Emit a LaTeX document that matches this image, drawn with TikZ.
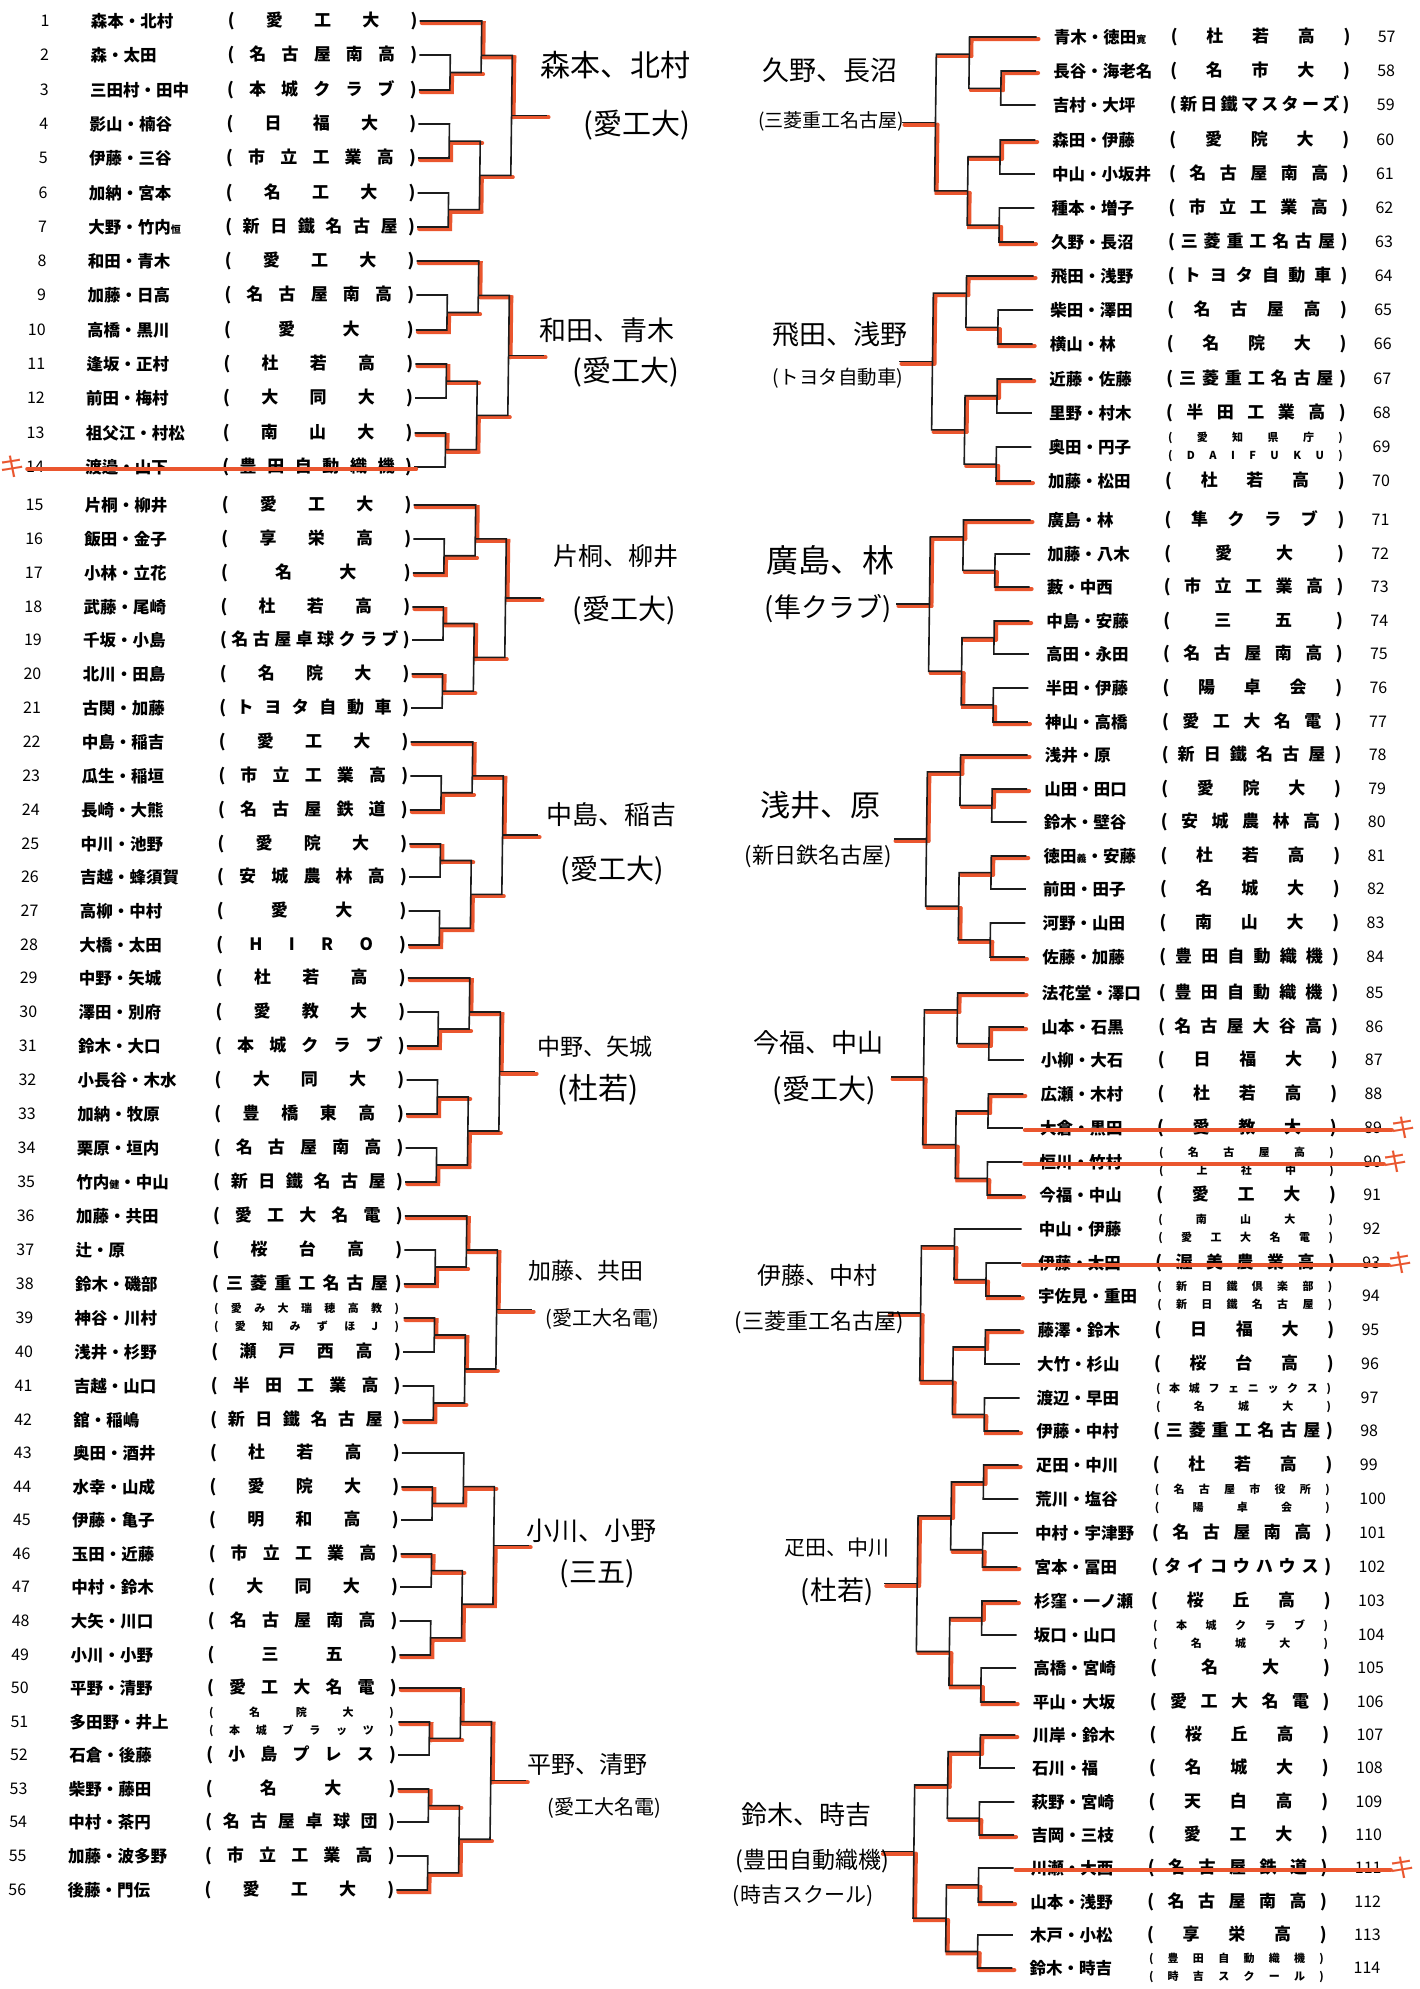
\documentclass[tikz,border=0pt]{standalone}
\usepackage{fontspec}
\setmainfont{Noto Sans CJK JP}
\usetikzlibrary{calc}

\pgfdeclarelayer{paper}
\pgfdeclarelayer{marker}
\pgfsetlayers{paper,marker,main}

\definecolor{ink}{RGB}{28,28,28}
\definecolor{pen}{RGB}{234,86,46}

\newlength{\clubw}
\newcommand{\spreadout}[1]{\makebox[\clubw][s]{\spaceskip=0pt plus 1fil\relax\hskip 0pt plus 1fil\relax #1\hskip 0pt plus 1fil\relax}}
\newcommand{\one}[1]{(\spreadout{#1})}
\newcommand{\two}[2]{{\fontsize{11}{17.5}\selectfont\begin{tabular}{@{}c@{}}(\spreadout{#1})\\(\spreadout{#2})\end{tabular}}}
\newcommand{\sm}[1]{{\fontsize{10}{10}\selectfont #1}}

\tikzset{
  bk/.style={draw=ink,line width=1.6pt},
  hl/.style={draw=pen,line width=4pt,line cap=round,transform canvas={shift={(2pt,-2pt)}}},
  rownum/.style={inner sep=0pt,font=\fontsize{16}{16}\selectfont},
  player/.style={anchor=west,inner sep=0pt,font=\fontsize{16.5}{16.5}\selectfont\bfseries},
  club/.style={inner sep=0pt,font=\fontsize{17}{17}\selectfont\bfseries},
  scrawl/.style={inner sep=0pt,font=\fontsize{#1}{#1}\selectfont},
  kimark/.style={text=pen,inner sep=0pt,font=\fontsize{26}{26}\selectfont},
}

% block of seven: tag, first row, top, pitch, x of rounds 1-3, x of end, 2nd round joint
\newcommand{\bracketseven}[9]{%
  \pgfmathtruncatemacro\rA{#2}\pgfmathtruncatemacro\rB{#2+1}%
  \pgfmathtruncatemacro\rC{#2+2}\pgfmathtruncatemacro\rD{#2+3}%
  \pgfmathtruncatemacro\rE{#2+4}\pgfmathtruncatemacro\rF{#2+5}%
  \pgfmathtruncatemacro\rG{#2+6}%
  \pgfmathsetmacro\fpos{(#9+4.5)/2}%
  \begin{scope}[yshift=-#3pt,y=-#4pt]
    \coordinate (#1j1) at (#5,1.5);
    \coordinate (#1j2) at (#5,3.5);
    \coordinate (#1j3) at (#5,5.5);
    \coordinate (#1k1) at (#6,#9);
    \coordinate (#1k2) at (#6,4.5);
    \coordinate (#1f) at (#7,\fpos);
    \coordinate (#1o) at (#8,\fpos);
  \end{scope}
  \draw[bk] (p\rA) -| (#1k1) |- (#1j1);
  \draw[bk] (p\rB) -| (#1j1) |- (p\rC);
  \draw[bk] (p\rD) -| (#1j2) |- (p\rE);
  \draw[bk] (p\rF) -| (#1j3) |- (p\rG);
  \draw[bk] (#1j2) -| (#1k2) |- (#1j3);
  \draw[bk] (#1k1) -| (#1f) |- (#1k2);
  \draw[bk] (#1f) -- (#1o);
  \begin{pgfonlayer}{marker}
    \draw[hl] (#1j1) -- (#1j1 -| #1k1) (#1j2) -- (#1j2 -| #1k2) (#1j3) -- (#1j3 -| #1k2)
      (#1k1) -- (#1k1 -| #1f) (#1k2) -- (#1k2 -| #1f) (#1f) -- (#1o);
  \end{pgfonlayer}
}

% block of eight: tag, first row, top, pitch, x of rounds 1-3, x of end
\newcommand{\bracketeight}[8]{%
  \pgfmathtruncatemacro\rA{#2}\pgfmathtruncatemacro\rB{#2+1}%
  \pgfmathtruncatemacro\rC{#2+2}\pgfmathtruncatemacro\rD{#2+3}%
  \pgfmathtruncatemacro\rE{#2+4}\pgfmathtruncatemacro\rF{#2+5}%
  \pgfmathtruncatemacro\rG{#2+6}\pgfmathtruncatemacro\rH{#2+7}%
  \begin{scope}[yshift=-#3pt,y=-#4pt]
    \coordinate (#1j1) at (#5,0.5);
    \coordinate (#1j2) at (#5,2.5);
    \coordinate (#1j3) at (#5,4.5);
    \coordinate (#1j4) at (#5,6.5);
    \coordinate (#1k1) at (#6,1.5);
    \coordinate (#1k2) at (#6,5.5);
    \coordinate (#1f) at (#7,3.5);
    \coordinate (#1o) at (#8,3.5);
  \end{scope}
  \draw[bk] (p\rA) -| (#1j1) |- (p\rB);
  \draw[bk] (p\rC) -| (#1j2) |- (p\rD);
  \draw[bk] (p\rE) -| (#1j3) |- (p\rF);
  \draw[bk] (p\rG) -| (#1j4) |- (p\rH);
  \draw[bk] (#1j1) -| (#1k1) |- (#1j2);
  \draw[bk] (#1j3) -| (#1k2) |- (#1j4);
  \draw[bk] (#1k1) -| (#1f) |- (#1k2);
  \draw[bk] (#1f) -- (#1o);
  \begin{pgfonlayer}{marker}
    \draw[hl] (#1j1) -- (#1j1 -| #1k1) (#1j2) -- (#1j2 -| #1k1) (#1j3) -- (#1j3 -| #1k2)
      (#1j4) -- (#1j4 -| #1k2) (#1k1) -- (#1k1 -| #1f) (#1k2) -- (#1k2 -| #1f) (#1f) -- (#1o);
  \end{pgfonlayer}
}

\begin{document}
\begin{tikzpicture}[x=1pt,y=-1pt]

\begin{pgfonlayer}{paper}
\fill[white] (0,0) rectangle (1419,1989);
\end{pgfonlayer}
\useasboundingbox (0,0) rectangle (1419,1989);

\begin{scope}[xslant=0.0125]

\setlength{\clubw}{176pt}
\foreach \n/\y/\who/\club in {
  1/21/森本・北村/\one{愛 工 大},
  2/55/森・太田/\one{名 古 屋 南 高},
  3/90/三田村・田中/\one{本 城 ク ラ ブ},
  4/124/影山・楠谷/\one{日 福 大},
  5/158/伊藤・三谷/\one{市 立 工 業 高},
  6/193/加納・宮本/\one{名 工 大},
  7/227/大野・竹内\sm{恒}/\one{新 日 鐵 名 古 屋},
  8/261/和田・青木/\one{愛 工 大},
  9/295/加藤・日高/\one{名 古 屋 南 高},
  10/330/高橋・黒川/\one{愛 大},
  11/364/逢坂・正村/\one{杜 若 高},
  12/398/前田・梅村/\one{大 同 大},
  13/433/祖父江・村松/\one{南 山 大},
  14/467/渡邉・山下/\one{豊 田 自 動 織 機},
  15/505/片桐・柳井/\one{愛 工 大},
  16/539/飯田・金子/\one{享 栄 高},
  17/573/小林・立花/\one{名 大},
  18/607/武藤・尾崎/\one{杜 若 高},
  19/640/千坂・小島/\one{名 古 屋 卓 球 ク ラ ブ},
  20/674/北川・田島/\one{名 院 大},
  21/708/古関・加藤/\one{ト ヨ タ 自 動 車},
  22/742/中島・稲吉/\one{愛 工 大},
  23/776/瓜生・稲垣/\one{市 立 工 業 高},
  24/810/長崎・大熊/\one{名 古 屋 鉄 道},
  25/844/中川・池野/\one{愛 院 大},
  26/877/吉越・蜂須賀/\one{安 城 農 林 高},
  27/911/高柳・中村/\one{愛 大},
  28/945/大橋・太田/\one{H I R O},
  29/978/中野・矢城/\one{杜 若 高},
  30/1012/澤田・別府/\one{愛 教 大},
  31/1046/鈴木・大口/\one{本 城 ク ラ ブ},
  32/1080/小長谷・木水/\one{大 同 大},
  33/1114/加納・牧原/\one{豊 橋 東 高},
  34/1148/栗原・垣内/\one{名 古 屋 南 高},
  35/1182/竹内\sm{健}・中山/\one{新 日 鐵 名 古 屋},
  36/1216/加藤・共田/\one{愛 工 大 名 電},
  37/1250/辻・原/\one{桜 台 高},
  38/1284/鈴木・磯部/\one{三 菱 重 工 名 古 屋},
  39/1318/神谷・川村/\two{愛 み 大 瑞 穂 高 教}{愛 知 み ず ほ J},
  40/1352/浅井・杉野/\one{瀬 戸 西 高},
  41/1386/吉越・山口/\one{半 田 工 業 高},
  42/1420/舘・稲嶋/\one{新 日 鐵 名 古 屋},
  43/1453/奥田・酒井/\one{杜 若 高},
  44/1487/水幸・山成/\one{愛 院 大},
  45/1520/伊藤・亀子/\one{明 和 高},
  46/1554/玉田・近藤/\one{市 立 工 業 高},
  47/1587/中村・鈴木/\one{大 同 大},
  48/1621/大矢・川口/\one{名 古 屋 南 高},
  49/1655/小川・小野/\one{三 五},
  50/1688/平野・清野/\one{愛 工 大 名 電},
  51/1722/多田野・井上/\two{名 院 大}{本 城 ブ ラ ッ ツ},
  52/1755/石倉・後藤/\one{小 島 プ レ ス},
  53/1789/柴野・藤田/\one{名 大},
  54/1822/中村・茶円/\one{名 古 屋 卓 球 団},
  55/1856/加藤・波多野/\one{市 立 工 業 高},
  56/1890/後藤・門伝/\one{愛 工 大}}{
  \node[rownum,anchor=east] (n\n) at (50,\y) {\n};
  \node[player] (w\n) at (91,\y) {\who};
  \node[club] (c\n) at (323,\y) {\club};
  \coordinate (p\n) at (420,\y);
}

\setlength{\clubw}{166pt}
\foreach \n/\y/\who/\club in {
  57/37/青木・徳田\sm{寛}/\one{杜 若 高},
  58/71/長谷・海老名/\one{名 市 大},
  59/105/吉村・大坪/\one{新 日 鐵 マ ス タ ー ズ},
  60/140/森田・伊藤/\one{愛 院 大},
  61/174/中山・小坂井/\one{名 古 屋 南 高},
  62/208/種本・増子/\one{市 立 工 業 高},
  63/242/久野・長沼/\one{三 菱 重 工 名 古 屋},
  64/276/飛田・浅野/\one{ト ヨ タ 自 動 車},
  65/310/柴田・澤田/\one{名 古 屋 高},
  66/344/横山・林/\one{名 院 大},
  67/379/近藤・佐藤/\one{三 菱 重 工 名 古 屋},
  68/413/里野・村木/\one{半 田 工 業 高},
  69/447/奥田・円子/\two{愛 知 県 庁}{D A I F U K U},
  70/481/加藤・松田/\one{杜 若 高},
  71/520/廣島・林/\one{隼 ク ラ ブ},
  72/554/加藤・八木/\one{愛 大},
  73/587/藪・中西/\one{市 立 工 業 高},
  74/621/中島・安藤/\one{三 五},
  75/654/高田・永田/\one{名 古 屋 南 高},
  76/688/半田・伊藤/\one{陽 卓 会},
  77/722/神山・高橋/\one{愛 工 大 名 電},
  78/755/浅井・原/\one{新 日 鐵 名 古 屋},
  79/789/山田・田口/\one{愛 院 大},
  80/822/鈴木・壁谷/\one{安 城 農 林 高},
  81/856/徳田\sm{義}・安藤/\one{杜 若 高},
  82/889/前田・田子/\one{名 城 大},
  83/923/河野・山田/\one{南 山 大},
  84/957/佐藤・加藤/\one{豊 田 自 動 織 機},
  85/993/法花堂・澤口/\one{豊 田 自 動 織 機},
  86/1027/山本・石黒/\one{名 古 屋 大 谷 高},
  87/1060/小柳・大石/\one{日 福 大},
  88/1094/広瀬・木村/\one{杜 若 高},
  89/1128/大倉・黒田/\one{愛 教 大},
  90/1162/恒川・竹村/\two{名 古 屋 高}{上 社 中},
  91/1195/今福・中山/\one{愛 工 大},
  92/1229/中山・伊藤/\two{南 山 大}{愛 工 大 名 電},
  93/1263/伊藤・太田/\one{渥 美 農 業 高},
  94/1296/宇佐見・重田/\two{新 日 鐵 倶 楽 部}{新 日 鐵 名 古 屋},
  95/1330/藤澤・鈴木/\one{日 福 大},
  96/1364/大竹・杉山/\one{桜 台 高},
  97/1398/渡辺・早田/\two{本 城 フ ェ ニ ッ ク ス}{名 城 大},
  98/1431/伊藤・中村/\one{三 菱 重 工 名 古 屋},
  99/1465/疋田・中川/\one{杜 若 高},
  100/1499/荒川・塩谷/\two{名 古 屋 市 役 所}{陽 卓 会},
  101/1533/中村・宇津野/\one{名 古 屋 南 高},
  102/1567/宮本・冨田/\one{タ イ コ ウ ハ ウ ス},
  103/1601/杉窪・一ノ瀬/\one{桜 丘 高},
  104/1635/坂口・山口/\two{本 城 ク ラ ブ}{名 城 大},
  105/1668/高橋・宮崎/\one{名 大},
  106/1702/平山・大坂/\one{愛 工 大 名 電},
  107/1735/川岸・鈴木/\one{桜 丘 高},
  108/1768/石川・福/\one{名 城 大},
  109/1802/萩野・宮崎/\one{天 白 高},
  110/1835/吉岡・三枝/\one{愛 工 大},
  111/1868/川瀬・大西/\one{名 古 屋 鉄 道},
  112/1902/山本・浅野/\one{名 古 屋 南 高},
  113/1935/木戸・小松/\one{享 栄 高},
  114/1968/鈴木・時吉/\two{豊 田 自 動 織 機}{時 吉 ス ク ー ル}}{
  \node[player] (w\n) at (1054,\y) {\who};
  \node[club] (c\n) at (1261,\y) {\club};
  \node[rownum,anchor=west] (n\n) at (1378,\y) {\n};
  \coordinate (p\n) at (1037,\y);
}

\bracketseven{la}{1}{21}{34.3}{451}{482}{513}{548}{1}
\bracketseven{lb}{8}{261}{34.3}{451}{482}{513}{548}{1}
\bracketseven{lc}{15}{505}{33.85}{451}{482}{513}{548}{1}
\bracketseven{ld}{22}{742}{33.85}{451}{482}{513}{548}{1}
\bracketseven{le}{29}{978}{34}{451}{482}{513}{548}{1}
\bracketseven{lf}{36}{1216}{34}{451}{482}{513}{548}{1}
\bracketseven{lg}{43}{1453}{33.6}{451}{482}{513}{548}{1}
\bracketseven{lh}{50}{1688}{33.6}{451}{482}{513}{548}{1}

\bracketseven{ra}{57}{37}{34.2}{1002}{970}{937}{904}{0.5}
\bracketseven{rb}{64}{276}{34.2}{1002}{970}{937}{904}{0.5}
\bracketseven{rc}{71}{520}{33.6}{1002}{970}{937}{904}{0.5}
\bracketseven{rd}{78}{755}{33.6}{1002}{970}{937}{904}{0.5}
\bracketseven{re}{85}{993}{33.7}{1002}{970}{937}{904}{0.5}
\bracketseven{rf}{92}{1229}{33.7}{1002}{970}{937}{904}{0.5}
\bracketeight{rg}{99}{1465}{33.9}{1002}{970}{937}{904}
\bracketeight{rh}{107}{1735}{33.3}{1002}{970}{937}{904}

\begin{pgfonlayer}{marker}
\draw[hl] (p3) -| (laj1) (p5) -| (laj2) (p7) -| (laj3) (p1) -| (lak1) (laj3) -| (lak2) (lak1) -| (laf);
\draw[hl] (p10) -| (lbj1) (p11) -| (lbj2) (p13) -| (lbj3) (p8) -| (lbk1) (lbj3) -| (lbk2) (lbk1) -| (lbf);
\draw[hl] (p17) -| (lcj1) (p18) -| (lcj2) (p20) -| (lcj3) (p15) -| (lck1) (lcj2) -| (lck2) (lck1) -| (lcf);
\draw[hl] (p24) -| (ldj1) (p25) -| (ldj2) (p28) -| (ldj3) (p22) -| (ldk1) (ldj3) -| (ldk2) (ldk1) -| (ldf);
\draw[hl] (p31) -| (lej1) (p33) -| (lej2) (p35) -| (lej3) (p29) -| (lek1) (lej3) -| (lek2) (lek1) -| (lef);
\draw[hl] (p38) -| (lfj1) (p39) -| (lfj2) (p42) -| (lfj3) (p36) -| (lfk1) (lfj2) -| (lfk2) (lfk1) -| (lff);
\draw[hl] (p44) -| (lgj1) (p46) -| (lgj2) (p49) -| (lgj3) (lgj1) -| (lgk1) (lgj3) -| (lgk2) (lgk2) -| (lgf);
\draw[hl] (p51) -| (lhj1) (p53) -| (lhj2) (p56) -| (lhj3) (p50) -| (lhk1) (lhj3) -| (lhk2) (lhk1) -| (lhf);
\draw[hl] (p58) -| (raj1) (p60) -| (raj2) (p63) -| (raj3) (p57) -| (rak1) (raj3) -| (rak2) (rak2) -| (raf);
\draw[hl] (p66) -| (rbj1) (p67) -| (rbj2) (p70) -| (rbj3) (p64) -| (rbk1) (rbj2) -| (rbk2) (rbk1) -| (rbf);
\draw[hl] (p73) -| (rcj1) (p74) -| (rcj2) (p77) -| (rcj3) (p71) -| (rck1) (rcj3) -| (rck2) (rck1) -| (rcf);
\draw[hl] (p79) -| (rdj1) (p81) -| (rdj2) (p84) -| (rdj3) (p78) -| (rdk1) (rdj3) -| (rdk2) (rdk1) -| (rdf);
\draw[hl] (p86) -| (rej1) (p88) -| (rej2) (p91) -| (rej3) (p85) -| (rek1) (rej3) -| (rek2) (rek2) -| (ref);
\draw[hl] (p94) -| (rfj1) (p95) -| (rfj2) (p98) -| (rfj3) (rfj1) -| (rfk1) (rfj3) -| (rfk2) (rfk2) -| (rff);
\draw[hl] (p99) -| (rgj1) (p102) -| (rgj2) (p103) -| (rgj3) (p106) -| (rgj4) (rgj1) -| (rgk1) (rgj4) -| (rgk2) (rgk1) -| (rgf);
\draw[hl] (p107) -| (rhj1) (p110) -| (rhj2) (p112) -| (rhj3) (p114) -| (rhj4) (rhj1) -| (rhk1) (rhj4) -| (rhk2) (rhk2) -| (rhf);
\end{pgfonlayer}

\end{scope}

\node[kimark] (x14) at (12,467) {キ};
\draw[hl] (x14.east) -- (p14);
\node[kimark] (x89) at (1403,1128) {キ};
\draw[hl] (p89) -- (x89.west);
\node[kimark] (x90) at (1395,1162) {キ};
\draw[hl] (p90) -- (x90.west);
\node[kimark] (x93) at (1400,1263) {キ};
\draw[hl] (p93) -- (x93.west);
\node[kimark] (x111) at (1402,1868) {キ};
\draw[hl] (p111) -- (x111.west);

\node[scrawl=30] (laname) at (615,65) {森本、北村};
\node[scrawl=29] (laclub) at (637,125) {(愛工大)};
\node[scrawl=27] (lbname) at (607,330) {和田、青木};
\node[scrawl=29] (lbclub) at (626,372) {(愛工大)};
\node[scrawl=25] (lcname) at (616,556) {片桐、柳井};
\node[scrawl=28] (lcclub) at (624,610) {(愛工大)};
\node[scrawl=26] (ldname) at (611,815) {中島、稲吉};
\node[scrawl=28] (ldclub) at (612,870) {(愛工大)};
\node[scrawl=23] (lename) at (595,1047) {中野、矢城};
\node[scrawl=30] (leclub) at (598,1090) {(杜若)};
\node[scrawl=23] (lfname) at (586,1271) {加藤、共田};
\node[scrawl=20] (lfclub) at (602,1319) {(愛工大名電)};
\node[scrawl=26] (lgname) at (591,1531) {小川、小野};
\node[scrawl=28] (lgclub) at (597,1574) {(三五)};
\node[scrawl=24] (lhname) at (587,1764) {平野、清野};
\node[scrawl=20] (lhclub) at (604,1808) {(愛工大名電)};

\node[scrawl=27] (raname) at (830,70) {久野、長沼};
\node[scrawl=19] (raclub) at (831,121) {(三菱重工名古屋)};
\node[scrawl=27] (rbname) at (840,334) {飛田、浅野};
\node[scrawl=19.5] (rbclub) at (838,378) {(トヨタ自動車)};
\node[scrawl=32] (rcname) at (830,560) {廣島、林};
\node[scrawl=27] (rcclub) at (828,609) {(隼クラブ)};
\node[scrawl=30] (rdname) at (820,805) {浅井、原};
\node[scrawl=22] (rdclub) at (818,856) {(新日鉄名古屋)};
\node[scrawl=26] (rename) at (818,1043) {今福、中山};
\node[scrawl=28] (reclub) at (824,1090) {(愛工大)};
\node[scrawl=24] (rfname) at (817,1275) {伊藤、中村};
\node[scrawl=22] (rfclub) at (819,1322) {(三菱重工名古屋)};
\node[scrawl=21] (rgname) at (837,1548) {疋田、中川};
\node[scrawl=27] (rgclub) at (837,1592) {(杜若)};
\node[scrawl=26] (rhname) at (806,1815) {鈴木、時吉};
\node[scrawl=23] (rhclub) at (812,1861) {(豊田自動織機)};
\node[scrawl=21] (rhclubb) at (803,1896) {(時吉スクール)};

\end{tikzpicture}
\end{document}
